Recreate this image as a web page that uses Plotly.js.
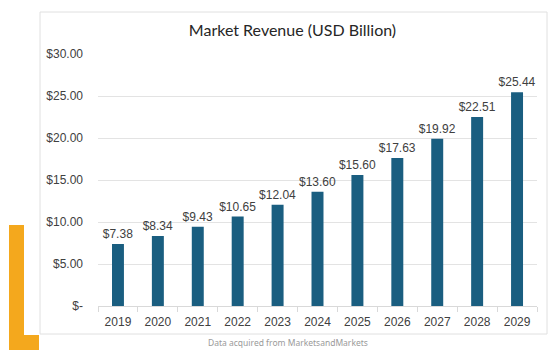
<!DOCTYPE html>
<html>
<head>
<meta charset="utf-8">
<script src="https://cdn.plot.ly/plotly-3.0.1.min.js"></script>
<style>
html,body{margin:0;padding:0;background:#ffffff;}
#chart{width:560px;height:354px;}
</style>
</head>
<body>
<div id="chart"></div>
<script>
var years = ["2019","2020","2021","2022","2023","2024","2025","2026","2027","2028","2029"];
var revenue = [7.38, 8.34, 9.43, 10.65, 12.04, 13.60, 15.60, 17.63, 19.92, 22.51, 25.44];
var yTickVals = [0, 5, 10, 15, 20, 25, 30];
var yTickText = ["$-", "$5.00", "$10.00", "$15.00", "$20.00", "$25.00", "$30.00"];

// plot area in pixels: x 98..537, y 54..306
var L = 98, R = 537, T = 54, B = 306;
function px(x){ return (x - L) / (R - L); }
function py(y){ return (B - y) / (B - T); }

var trace = {
  type: 'bar',
  x: years,
  y: revenue,
  marker: {color: '#1A5E80'},
  texttemplate: '$%{y:.2f}',
  textposition: 'outside',
  constraintext: 'none',
  cliponaxis: false,
  outsidetextfont: {family: 'Liberation Sans, Arial, sans-serif', size: 12, color: '#404040'},
  hoverinfo: 'x+y'
};

var layout = {
  width: 560,
  height: 354,
  margin: {l: L, r: 560 - R, t: T, b: 354 - B},
  paper_bgcolor: '#ffffff',
  plot_bgcolor: '#ffffff',
  showlegend: false,
  bargap: 0.7,
  title: {
    text: 'Market Revenue (USD Billion)',
    font: {family: 'Lato, sans-serif', size: 16, color: '#262626'},
    x: 292.5 / 560, xref: 'container', xanchor: 'center',
    y: 1 - 30 / 354, yref: 'container', yanchor: 'middle'
  },
  xaxis: {
    type: 'category',
    showline: true,
    linecolor: '#d9d9d9',
    linewidth: 1,
    ticks: 'outside',
    tickson: 'boundaries',
    ticklen: 5,
    tickcolor: '#d9d9d9',
    ticklabelstandoff: 5,
    showgrid: false,
    tickfont: {family: 'Liberation Sans, Arial, sans-serif', size: 12, color: '#404040'},
    fixedrange: true
  },
  yaxis: {
    range: [0, 30],
    tickvals: yTickVals,
    ticktext: yTickText,
    showgrid: true,
    gridcolor: '#e3e3e3',
    gridwidth: 1,
    zeroline: false,
    showline: false,
    ticks: '',
    ticklabelstandoff: 14,
    tickfont: {family: 'Liberation Sans, Arial, sans-serif', size: 12, color: '#404040'},
    fixedrange: true
  },
  shapes: [
    {type: 'rect', xref: 'paper', yref: 'paper', layer: 'below',
     x0: px(40), x1: px(547), y0: py(334), y1: py(12),
     line: {color: '#e0e0e0', width: 1}, fillcolor: 'rgba(0,0,0,0)'},
    {type: 'rect', xref: 'paper', yref: 'paper', layer: 'above',
     x0: px(9), x1: px(24), y0: py(350), y1: py(225),
     line: {width: 0}, fillcolor: '#F4A81D'},
    {type: 'rect', xref: 'paper', yref: 'paper', layer: 'above',
     x0: px(9), x1: px(39), y0: py(350), y1: py(335),
     line: {width: 0}, fillcolor: '#F4A81D'}
  ],
  annotations: [
    {text: 'Data acquired from MarketsandMarkets', xref: 'paper', yref: 'paper',
     x: px(288), y: py(342), xanchor: 'center', yanchor: 'middle', showarrow: false,
     font: {family: 'Noto Sans, sans-serif', size: 8.5, color: '#9a9a9a'}}
  ]
};

Plotly.newPlot('chart', [trace], layout, {displayModeBar: false, staticPlot: true});
</script>
</body>
</html>
